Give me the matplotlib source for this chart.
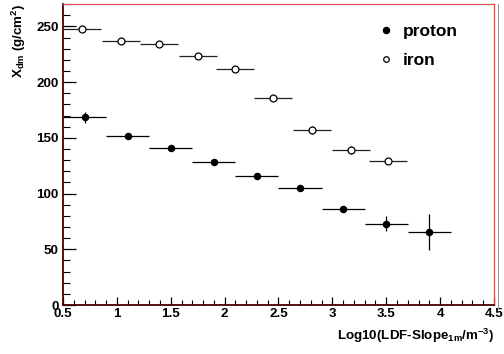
import matplotlib
matplotlib.use("Agg")
import matplotlib.pyplot as plt
from matplotlib.ticker import MultipleLocator
from matplotlib.lines import Line2D

plt.rcParams['font.family'] = ['Liberation Sans', 'DejaVu Sans']
plt.rcParams['font.weight'] = 'bold'
plt.rcParams['mathtext.fontset'] = 'custom'
plt.rcParams['mathtext.rm'] = 'Liberation Sans:bold'
plt.rcParams['mathtext.bf'] = 'Liberation Sans:bold'
plt.rcParams['mathtext.it'] = 'Liberation Sans:bold'

# proton (filled markers)
proton_x = [0.7, 1.1, 1.5, 1.9, 2.3, 2.7, 3.1, 3.5, 3.9]
proton_xerr = [0.2, 0.2, 0.2, 0.2, 0.2, 0.2, 0.2, 0.2, 0.2]
proton_y = [168.5, 151.5, 141.0, 128.0, 115.5, 105.0, 86.5, 73.0, 65.5]
proton_yerr = [4.8, 1.5, 1.5, 1.5, 1.5, 1.5, 2.5, 6.5, 15.8]

# iron (open markers)
iron_x = [0.68, 1.04, 1.39, 1.75, 2.10, 2.45, 2.81, 3.17, 3.52]
iron_xerr = [0.177, 0.177, 0.177, 0.177, 0.177, 0.177, 0.177, 0.177, 0.177]
iron_y = [247.5, 236.5, 234.0, 223.5, 211.5, 185.5, 157.0, 139.0, 129.5]
iron_yerr = [2.5, 1.5, 1.5, 1.5, 2.5, 2.0, 4.0, 3.5, 1.5]

fig = plt.figure(figsize=(5.04, 3.54), dpi=100)
ax = fig.add_axes([0.125, 0.1384, 0.855, 0.850])

ax.errorbar(proton_x, proton_y, xerr=proton_xerr, yerr=proton_yerr, fmt='o',
            color='black', ms=4.4, mfc='black', mec='black', elinewidth=0.9,
            capsize=0, zorder=3)
ax.errorbar(iron_x, iron_y, xerr=iron_xerr, yerr=iron_yerr, fmt='o',
            color='#222222', ms=5.0, mfc='white', mec='black', mew=0.9,
            elinewidth=0.9, capsize=0, zorder=3)

ax.set_xlim(0.5, 4.5)
ax.set_ylim(0, 270)
ax.xaxis.set_major_locator(MultipleLocator(0.5))
ax.xaxis.set_minor_locator(MultipleLocator(0.1))
ax.yaxis.set_major_locator(MultipleLocator(50))
ax.yaxis.set_minor_locator(MultipleLocator(10))
ax.xaxis.set_major_formatter(plt.FuncFormatter(lambda v, p: '%g' % v))

ax.tick_params(axis='x', which='major', direction='in', length=6, width=0.9,
               labelsize=9.6, pad=2, colors='black')
ax.tick_params(axis='x', which='minor', direction='in', length=3.5, width=0.8)
ax.tick_params(axis='y', which='major', direction='in', length=9.5, width=0.9,
               labelsize=9.6, pad=3)
ax.tick_params(axis='y', which='minor', direction='in', length=4.8, width=0.8)

for lbl in ax.get_xticklabels() + ax.get_yticklabels():
    lbl.set_fontweight('bold')

ax.spines['left'].set_color('#4a0000')
ax.spines['bottom'].set_color('#4a0000')
ax.spines['left'].set_linewidth(1.3)
ax.spines['bottom'].set_linewidth(1.3)
ax.spines['top'].set_color('#d85050')
ax.spines['right'].set_color('#d85050')
ax.spines['top'].set_linewidth(0.9)
ax.spines['right'].set_linewidth(0.9)

ax.set_ylabel(r'X$_{\mathrm{dm}}$ (g/cm$^{2}$)', fontsize=9.6,
              fontweight='bold', loc='top', labelpad=6)
ax.set_xlabel(r'Log10(LDF-Slope$_{\mathrm{1m}}$/m$^{\mathrm{-3}}$)',
              fontsize=9.6, fontweight='bold', loc='right', labelpad=5)

# legend
leg_handles = [
    Line2D([], [], ls='none', marker='o', ms=4.4, mfc='black', mec='black'),
    Line2D([], [], ls='none', marker='o', ms=4.0, mfc='white', mec='black', mew=0.9),
]
leg = ax.legend(leg_handles, ['proton', 'iron'], loc='upper right',
                bbox_to_anchor=(0.952, 0.985), frameon=False,
                prop={'weight': 'bold', 'size': 12.5}, handlelength=0.8,
                handletextpad=0.55, labelspacing=0.8)

fig.add_artist(Line2D([0.988, 0.988], [0.13, 0.99], color='#999999', lw=0.8,
                      transform=fig.transFigure))

fig.savefig('out.png', dpi=100)
